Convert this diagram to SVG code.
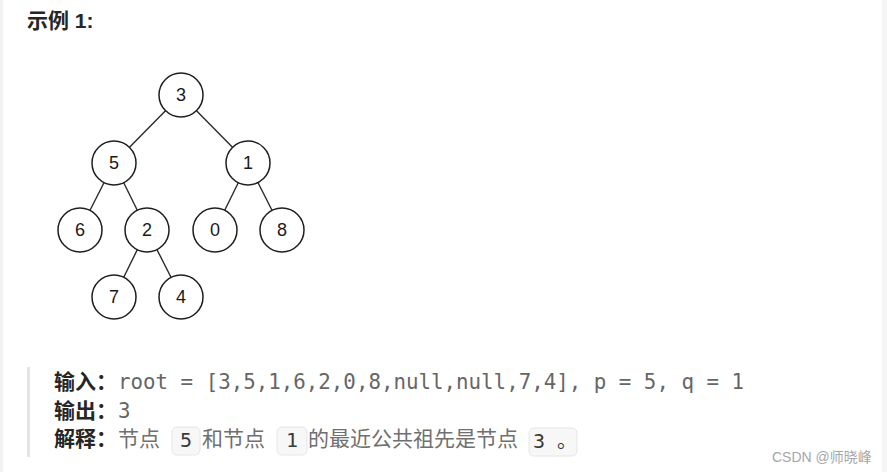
<svg xmlns="http://www.w3.org/2000/svg" width="887" height="472" viewBox="0 0 887 472">
<style>
.node circle{fill:#fff;stroke:#1f1f1f;stroke-width:1.5}
.node text{font-family:"Liberation Sans",Arial,sans-serif;font-size:18px;fill:#1a1a1a;text-anchor:middle}
.edge{stroke:#2a2a2a;stroke-width:1.4}
.lbl{font-family:"Liberation Sans","Noto Sans CJK SC",sans-serif;font-weight:bold;font-size:21px;fill:#262626}
.mono{font-family:"DejaVu Sans Mono","Noto Sans CJK SC",monospace;font-size:20.8px;fill:#666}
.cjk{font-family:"Noto Sans CJK SC",sans-serif;font-size:21px;fill:#707070}
.chip{fill:#f7f7f8;stroke:#e6e6e6;stroke-width:1}
.chiptext{font-family:"DejaVu Sans Mono","Noto Sans CJK SC",monospace;font-size:20px;fill:#3a3a3a}
</style>
<rect x="0" y="0" width="887" height="472" fill="#fff"/>
<rect x="0" y="0" width="3" height="472" fill="#f2f2f2"/>
<rect x="882" y="0" width="5" height="472" fill="#f5f5f5"/>
<text x="27" y="28" font-family="Liberation Sans,'Noto Sans CJK SC',sans-serif" font-weight="bold" font-size="21" fill="#262626">示例 1:</text>
<g id="connectors">
<line class="edge" x1="181" y1="95" x2="114" y2="163"/>
<line class="edge" x1="181" y1="95" x2="248" y2="163"/>
<line class="edge" x1="114" y1="163" x2="80" y2="230"/>
<line class="edge" x1="114" y1="163" x2="147" y2="230"/>
<line class="edge" x1="248" y1="163" x2="215" y2="230"/>
<line class="edge" x1="248" y1="163" x2="282" y2="230"/>
<line class="edge" x1="147" y1="230" x2="114" y2="297"/>
<line class="edge" x1="147" y1="230" x2="181" y2="297"/>
</g>
<g id="n3" class="node"><circle cx="181" cy="95" r="22"/><text x="181" y="101">3</text></g>
<g id="n5" class="node"><circle cx="114" cy="163" r="22"/><text x="114" y="169">5</text></g>
<g id="n1" class="node"><circle cx="248" cy="163" r="22"/><text x="248" y="169">1</text></g>
<g id="n6" class="node"><circle cx="80" cy="230" r="22"/><text x="80" y="236">6</text></g>
<g id="n2" class="node"><circle cx="147" cy="230" r="22"/><text x="147" y="236">2</text></g>
<g id="n0" class="node"><circle cx="215" cy="230" r="22"/><text x="215" y="236">0</text></g>
<g id="n8" class="node"><circle cx="282" cy="230" r="22"/><text x="282" y="236">8</text></g>
<g id="n7" class="node"><circle cx="114" cy="297" r="22"/><text x="114" y="303">7</text></g>
<g id="n4" class="node"><circle cx="181" cy="297" r="22"/><text x="181" y="303">4</text></g>
<rect x="27" y="367" width="3" height="90" fill="#e5e5e5"/>
<text class="lbl" x="54" y="389">输入：</text>
<text class="mono" x="118" y="389">root = [3,5,1,6,2,0,8,null,null,7,4], p = 5, q = 1</text>
<text class="lbl" x="54" y="417.5">输出：</text>
<text class="mono" x="118" y="417.5">3</text>
<text class="lbl" x="54" y="446">解释：</text>
<text class="cjk" x="118" y="446">节点</text>
<rect class="chip" x="172" y="427" width="28" height="28" rx="5"/>
<text class="chiptext" x="186" y="447" text-anchor="middle">5</text>
<text class="cjk" x="202" y="446">和节点</text>
<rect class="chip" x="277" y="427" width="30" height="28" rx="5"/>
<text class="chiptext" x="292" y="447" text-anchor="middle">1</text>
<text class="cjk" x="308" y="446">的最近公共祖先是节点</text>
<rect class="chip" x="529" y="428" width="48" height="28" rx="5"/>
<text class="chiptext" x="533" y="448">3 。</text>
<text x="772" y="462" font-family="Liberation Sans,'Noto Sans CJK SC',sans-serif" font-size="14" fill="#a6a6a6">CSDN @师晓峰</text>
</svg>
